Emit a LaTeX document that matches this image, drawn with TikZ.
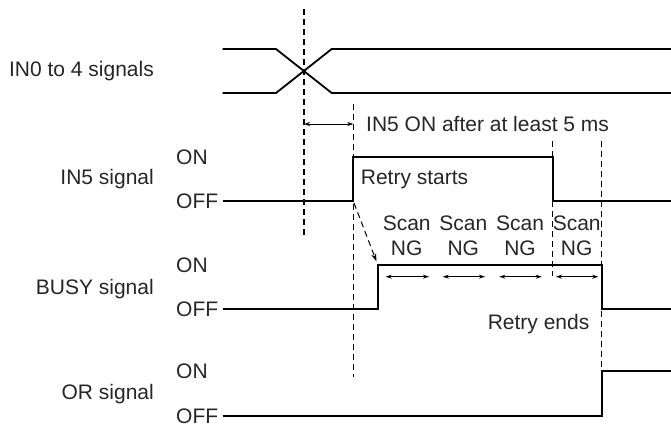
\documentclass[tikz,border=0pt]{standalone}
\usepackage{fontspec}
\setmainfont{Liberation Sans}
\usetikzlibrary{arrows.meta}
\begin{document}
\begin{tikzpicture}[x=1pt,y=-1pt,
  wave/.style={line width=1.8pt, line join=miter},
  guide/.style={line width=1.2pt, dash pattern=on 6pt off 4pt},
  lbl/.style={inner sep=0pt, text height=15pt, text depth=0pt, font=\fontsize{21}{25}\selectfont, text=black!85},
  dim/.style={line width=1pt, {Stealth[length=6pt,width=4pt]}-{Stealth[length=6pt,width=4pt]}},
]
\useasboundingbox (0,0) rectangle (671,426);

% signal names
\node[lbl, anchor=east] (n0) at (154,68.5) {IN0 to 4 signals};
\node[lbl, anchor=east] (n5) at (154,176.5) {IN5 signal};
\node[lbl, anchor=east] (nb) at (154,286.7) {BUSY signal};
\node[lbl, anchor=east] (nor) at (154,391.5) {OR signal};

% ON / OFF labels
\node[lbl, anchor=west] (on5) at (176,156.5) {ON};
\node[lbl, anchor=west] (off5) at (176,201) {OFF};
\node[lbl, anchor=west] (onb) at (176,265.3) {ON};
\node[lbl, anchor=west] (offb) at (176,308.7) {OFF};
\node[lbl, anchor=west] (onor) at (176,370.8) {ON};
\node[lbl, anchor=west] (offor) at (176,416.3) {OFF};

% IN0 to 4 signals
\draw[wave] (222.7,49) -- (276,49) -- (331.7,93) -- (671,93);
\draw[wave] (222.7,93) -- (276,93) -- (331.7,49) -- (671,49);

% IN5 signal
\draw[wave] (222.7,201) -- (353.3,201) -- (353.3,157) -- (552.7,157) -- (552.7,201) -- (671,201);

% BUSY signal
\draw[wave] (222.7,308.7) -- (378.3,308.7) -- (378.3,264.7) -- (601.7,264.7) -- (601.7,308.7) -- (671,308.7);

% OR signal
\draw[wave] (222.7,416) -- (601.7,416) -- (601.7,371) -- (671,371);

% guide lines
\coordinate (g1t) at (304,9);   \coordinate (g1b) at (304,238);
\coordinate (g2t) at (353.3,104); \coordinate (g2b) at (353.3,377);
\coordinate (g3t) at (552.7,141); \coordinate (g3b) at (552.7,276);
\coordinate (g4t) at (601.7,141); \coordinate (g4b) at (601.7,369);
\draw[guide] (g1t) -- (g1b);
\draw[guide] (g2t) -- (g2b);
\draw[guide] (g3t) -- (g3b);
\draw[guide] (g4t) -- (g4b);

% 5 ms dimension
\coordinate (d1) at (304,124); \coordinate (d2) at (353.3,124);
\draw[dim] (d1) -- (d2);
\node[lbl, anchor=west] (t5ms) at (366,124) {IN5 ON after at least 5 ms};

% retry texts
\node[lbl, anchor=west] (rs) at (360.7,176.7) {Retry starts};
\node[lbl, anchor=east] (re) at (589.5,322) {Retry ends};

% diagonal dashed arrow
\coordinate (a1) at (354,203); \coordinate (a2) at (376.5,261.5);
\draw[line width=1pt, dash pattern=on 6pt off 4pt, -{Stealth[length=8pt,width=5pt]}] (a1) -- (a2);

% Scan NG labels
\foreach \x/\n in {406.7/s1,463.3/s2,520/s3,576.7/s4}{
  \node[lbl] (\n a) at (\x,223) {Scan};
  \node[lbl] (\n b) at (\x,248) {NG};
}

% scan arrows
\foreach \a/\b/\n in {385.7/429/1,442.7/485/2,499.3/541.7/3,556/598.3/4}{
  \coordinate (sl\n) at (\a,276.7); \coordinate (sr\n) at (\b,276.7);
  \draw[dim] (sl\n) -- (sr\n);
}
\end{tikzpicture}
\end{document}
